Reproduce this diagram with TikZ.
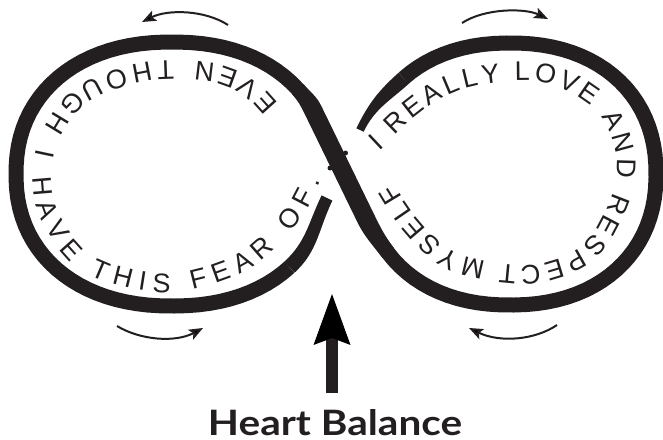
\documentclass[tikz,border=0pt]{standalone}
\usepackage{fontspec}
\usepackage{graphicx}
\setmainfont{Liberation Sans}
\newfontfamily\hbfont{Lato}
\usetikzlibrary{decorations.text, arrows.meta}
\definecolor{ink}{HTML}{231F20}
\newcommand\ringfont{\fontsize{27}{27}\selectfont}
\begin{document}
\begin{tikzpicture}[x=1pt, y=1pt,
  band/.style={draw=ink, line width=15pt, line cap=butt, line join=round},
  bandfill/.style={fill=ink, draw=none},
  ringtext/.style={decorate, decoration={text along path, text align=fit to path, text color=ink, text={|\ringfont|#1}}},
  thinarrow/.style={draw=ink, line width=2pt, -{Stealth[length=14pt, width=11pt, inset=3pt]}},
  bigarrow/.style={draw=ink, line width=12pt, -{Stealth[length=51pt, width=37pt, inset=7pt, line width=0pt]}},
  dot/.style={circle, fill=ink, inner sep=0pt, minimum size=5pt}]
\useasboundingbox (0,0) rectangle (663,-439);

% the infinity band: left loop, crossing strand, right loop (gap at the crossing)
\draw[band]
  plot[domain=-43:-322, samples=73]
    ({172+156*sign(cos(\x))*abs(cos(\x))^0.909}, {-174+132*sign(sin(\x))*abs(sin(\x))^0.909})
  to[out=-47.9,in=116] (313,-110) to[out=-64,in=116] (365.6,-218)
  to[out=-64,in=127.1] (388.2,-253.0)
  -- plot[domain=215:495, samples=71]
    ({510+146*sign(cos(\x))*abs(cos(\x))^0.909}, {-174+131*sign(sin(\x))*abs(sin(\x))^0.909});
% tapered end of the under strand at the left loop
\path[bandfill] (294.5,-272.7) to[out=42.4,in=244] (332.4,-200.6) -- (321.6,-195.4)
  to[out=244,in=42.4] (284.3,-261.7) -- cycle;
% tapered start of the under strand at the right loop
\path[bandfill] (398.5,-72.8) to[out=221.9,in=64] (356.4,-128.25) -- (363.6,-131.75)
  to[out=64,in=221.9] (408.5,-84.0) -- cycle;
% thicker middle of the crossing strand
\path[bandfill] (303.2,-84.1) to[out=-47.9,in=116] (321.3,-106.0) to[out=-64,in=116] (373.9,-214.0)
  to[out=-64,in=127.1] (394.2,-248.5) -- (382.2,-257.5) to[out=127.1,in=-64] (357.3,-222.0)
  to[out=116,in=-64] (304.7,-114.0) to[out=116,in=-47.9] (292.0,-94.1) -- cycle;

% ring texts
\path[ringtext={EVEN THOUGH I HAVE THIS FEAR OF.}]
  (278,-104) to[out=129,in=-5] (200,-62) to[out=175,in=17] (115,-70)
  to[out=197,in=58.6] (50,-118) to[out=238.6,in=82] (34,-160)
  to[out=262,in=124] (55,-243) to[out=304,in=165.7] (120,-286)
  to[out=345.7,in=198.6] (220,-282) to[out=18.6,in=230] (292,-230)
  to[out=50,in=244.6] (321,-181);
\path[ringtext={I REALLY LOVE AND RESPECT MYSELF}]
  (379,-151) to[out=42.6,in=215] (427,-108) to[out=35,in=186.3] (495,-83)
  to[out=6.3,in=155.4] (565,-90) to[out=-24.6,in=109.3] (612,-138)
  to[out=-70.7,in=67.6] (608,-205) to[out=247.6,in=20.2] (560,-258)
  to[out=200.2,in=-11.5] (478,-260) to[out=168.5,in=-48.4] (424,-226)
  to[out=131.6,in=-59] (394,-183);

\node[dot] (d1) at (330,-168) {};
\node[dot] (d2) at (345.5,-153) {};

% circulation arrows
\coordinate (a1s) at (228,-25); \coordinate (a1e) at (142,-22);
\coordinate (a2s) at (462,-23); \coordinate (a2e) at (548,-19);
\coordinate (a3s) at (117,-326); \coordinate (a3e) at (203,-328);
\coordinate (a4s) at (557,-325); \coordinate (a4e) at (469,-328);
\draw[thinarrow] (a1s) .. controls (205,-10) and (168,-9) .. (a1e);
\draw[thinarrow] (a2s) .. controls (485,-8) and (525,-8) .. (a2e);
\draw[thinarrow] (a3s) .. controls (140,-340) and (175,-343) .. (a3e);
\draw[thinarrow] (a4s) .. controls (535,-340) and (500,-343) .. (a4e);

% heart balance
\node[anchor=base, inner sep=0pt, text=ink] (hb) at (335,-435) {\resizebox{254pt}{26pt}{\hbfont\bfseries Heart Balance}};
\coordinate (shaft) at (332,-393);
\coordinate (tip) at (332,-294);
\draw[bigarrow] (shaft) -- (tip);
\end{tikzpicture}
\end{document}
